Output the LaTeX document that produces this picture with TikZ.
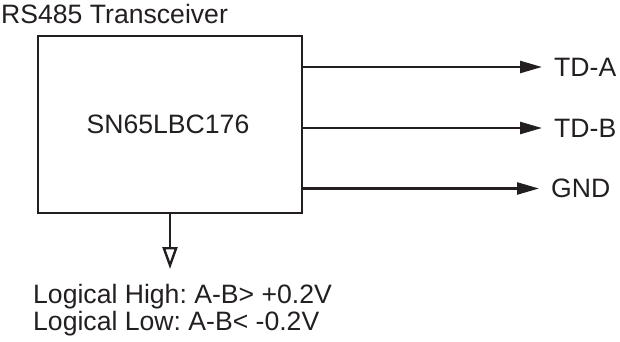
\documentclass[tikz,border=0pt]{standalone}
\usepackage{fontspec}
\setmainfont{Liberation Sans}
\frenchspacing
\usetikzlibrary{arrows.meta, positioning}
\definecolor{inkgray}{RGB}{35, 31, 32}

\begin{document}
\begin{tikzpicture}[
    x=1pt, y=-1pt,
    >={Triangle[length=22pt, width=12pt]},
    txt/.style={inner sep=0pt, text=inkgray, font=\fontsize{26.6}{27}\selectfont},
    chip/.style={draw=inkgray, line width=2.6pt, inner sep=0pt, minimum width=264pt, minimum height=177pt},
    sig/.style={->, line width=2.4pt, draw=inkgray, shorten >=12pt}
]
\useasboundingbox (0,0) rectangle (620,342);

% Transceiver block
\node[txt, anchor=base west] (title) at (1,24) {RS485 Transceiver};
\node[chip] (ic) at (170,124.5) {};
\node[txt, anchor=base] (part) at (168,133) {SN65LBC176};

% Output lines
\node[txt, anchor=west] (tda) at (554,67) {TD-A};
\node[txt, anchor=west] (tdb) at (554,128) {TD-B};
\node[txt, anchor=west] (gnd) at (551,188.5) {GND};
\draw[sig] (ic.east |- tda.west) -- (tda.west);
\draw[sig] (ic.east |- tdb.west) -- (tdb.west);
\draw[sig] (ic.east |- gnd.west) -- (gnd.west);

% Logic levels
\coordinate (lvl) at (170,269);
\draw[-{Triangle[open, length=22pt, width=15pt]}, line width=2.4pt, inkgray] (ic.south) -- (lvl);
\node[txt, anchor=base west] (high) at (33,303) {Logical High: A-B> +0.2V};
\node[txt, anchor=base west] (low) at (33,330) {Logical Low: A-B< -0.2V};

\end{tikzpicture}
\end{document}
